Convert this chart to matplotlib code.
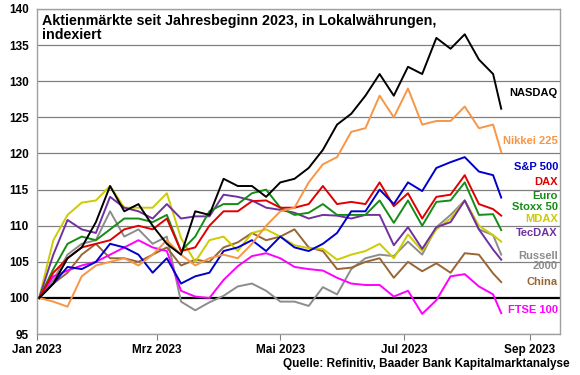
import pandas as pd
import matplotlib.pyplot as plt

plt.rcParams["font.family"] = ["Liberation Sans", "DejaVu Sans"]
plt.rcParams["font.weight"] = "bold"

# Wochenwerte (Index, Jahresbeginn = 100)
dates = list(pd.date_range("2023-01-02", "2023-08-14", freq="7D")) + [pd.Timestamp("2023-08-18")]

nasdaq = [100, 102, 105.5, 107, 110.5, 115.5, 112, 113, 110, 107.5, 106, 112, 111.5, 116.5, 115.5, 115.5, 114,
          116, 116.5, 118, 120.5, 124, 125.5, 128, 131, 128, 132, 131, 136, 134.5, 136.5, 133, 131, 126.2]
nikkei = [100, 99.5, 98.8, 103, 104.5, 105, 105.5, 104.5, 106, 108, 106, 104.5, 105.5, 106, 105.5, 107.5, 110,
          112, 112.5, 116, 118.5, 119.5, 123, 123.5, 128, 125, 129, 124, 124.5, 124.5, 126.5, 123.5, 124, 120.2]
sp500 = [100, 102, 104.3, 104, 105, 107.5, 107, 106, 103.5, 105.5, 102, 103, 103.5, 106.5, 107, 108, 106.5,
         108.5, 107, 106.5, 107.5, 109, 112, 112, 115, 113, 116, 114.8, 118, 118.8, 119.5, 117.5, 117, 113.9]
dax = [100, 103.5, 105.5, 107, 107.5, 108, 109.5, 110, 109.5, 111, 106.5, 107, 110, 112, 112, 113.4, 113.5,
       112.5, 112.5, 113, 115.5, 113, 113.3, 113, 116, 112.7, 114.5, 111, 114, 114.3, 117, 113, 112.3, 111.4]
stoxx = [100, 104, 107.5, 108.5, 108, 109.5, 111, 111, 110.5, 111.5, 106.5, 108.5, 112, 113, 113, 114.5, 115,
         112.5, 111.5, 111.8, 113, 111.5, 111.5, 111.5, 113.5, 110.4, 113.5, 110, 113.3, 113.5, 116, 111.5, 111.6, 109.4]
mdax = [100, 108, 111.5, 113.2, 113.5, 115.5, 112.5, 112.5, 112.5, 114.5, 108.3, 105, 108, 108.5, 106.5, 109,
        109.5, 108.5, 107.3, 106.9, 106.8, 105.3, 106, 106.5, 107.5, 105.5, 108.8, 106.5, 109.5, 111, 113.5, 110, 108.7, 107.8]
tecdax = [100, 106, 110.8, 109.5, 109, 114, 112.5, 112, 111, 113, 111, 111.3, 111.3, 114.3, 114, 113.5, 112.5,
          112.2, 111.8, 111, 111.5, 111.4, 111, 111.5, 111.5, 107.3, 109.8, 106.8, 109.8, 110.5, 113.5, 109.5, 106.7, 105.3]
russell = [100, 102.5, 106, 107.5, 108, 112, 108.5, 109.5, 107.5, 108.5, 99.5, 98.3, 99.4, 100.3, 101.6, 102,
           101, 99.5, 99.5, 98.9, 101.5, 100.5, 104, 105.5, 106, 105.8, 107.8, 106, 109.8, 111.5, 113.5, 109.5, 108.7, 106]
china = [100, 102, 103.5, 106, 107.5, 105.5, 105.5, 105, 106, 107, 104.5, 105.3, 105, 107, 107.7, 109, 108,
         108.5, 109.5, 107, 106.5, 104, 104.2, 105, 105.5, 102.8, 105, 103.7, 104.8, 103.5, 106.2, 106, 103.4, 102.2]
ftse = [100, 103, 103.8, 104.5, 105, 106, 107, 108, 107, 106.5, 101, 100.2, 100, 102.5, 104.4, 105.8, 106.2,
        105.5, 104.3, 104, 103.8, 102.8, 102, 101.8, 101.8, 100.2, 101, 97.8, 99.7, 103, 103.3, 101.6, 100.5, 97.9]

# Reihen: (Werte, Farbe, Beschriftung, Lage der Beschriftung)
series = [
    (russell, "#8c8c8c", "Russell\n2000", 105.1),
    (china, "#996633", "China", 102.2),
    (ftse, "#ff00ff", "FTSE 100", 98.3),
    (mdax, "#cccc00", "MDAX", 110.9),
    (tecdax, "#7030a0", "TecDAX", 109.0),
    (stoxx, "#168c16", "Euro\nStoxx 50", 113.35),
    (dax, "#e00000", "DAX", 116.1),
    (sp500, "#0000cc", "S&P 500", 118.1),
    (nikkei, "#f79646", "Nikkei 225", 121.7),
    (nasdaq, "#000000", "NASDAQ", 128.4),
]

fig = plt.figure(figsize=(5.8, 3.75), dpi=100)
ax = fig.add_axes([0.064, 0.109, 0.9015, 0.867])

for yv in range(95, 141, 5):
    if yv == 100:
        ax.axhline(yv, color="black", lw=1.6, zorder=1)
    else:
        ax.axhline(yv, color="#808080", lw=0.9, zorder=1)

for vals, col, lab, ly in series:
    ax.plot(dates, vals, color=col, lw=1.4, zorder=3)
    ax.text(pd.Timestamp("2023-09-15"), ly, lab, color=col, fontsize=8, fontweight="bold",
            ha="right", va="center", linespacing=1.05, zorder=4)

ax.set_ylim(95, 140)
ax.set_yticks(range(95, 141, 5))
ax.set_xlim(pd.Timestamp("2023-01-01"), pd.Timestamp("2023-09-16"))
ticks = [pd.Timestamp(d) for d in ["2023-01-01", "2023-03-01", "2023-05-01", "2023-07-01", "2023-09-01"]]
ax.set_xticks(ticks)
ax.set_xticklabels(["Jan 2023", "Mrz 2023", "Mai 2023", "Jul 2023", "Sep 2023"])
ax.tick_params(axis="x", direction="out", length=4, color="#808080", labelsize=8.5, pad=3)
ax.tick_params(axis="y", length=0, labelsize=8.5, pad=6)

for s in ax.spines.values():
    s.set_color("#a0a0a0")
    s.set_linewidth(1.0)

ax.text(0.01, 0.985, "Aktienmärkte seit Jahresbeginn 2023, in Lokalwährungen,\nindexiert",
        transform=ax.transAxes, fontsize=10.3, fontweight="bold", ha="left", va="top",
        linespacing=1.0, zorder=5)

fig.text(0.982, 0.03, "Quelle: Refinitiv, Baader Bank Kapitalmarktanalyse", fontsize=8.5,
         fontweight="bold", ha="right", va="center")

fig.savefig("out.png", dpi=100)
